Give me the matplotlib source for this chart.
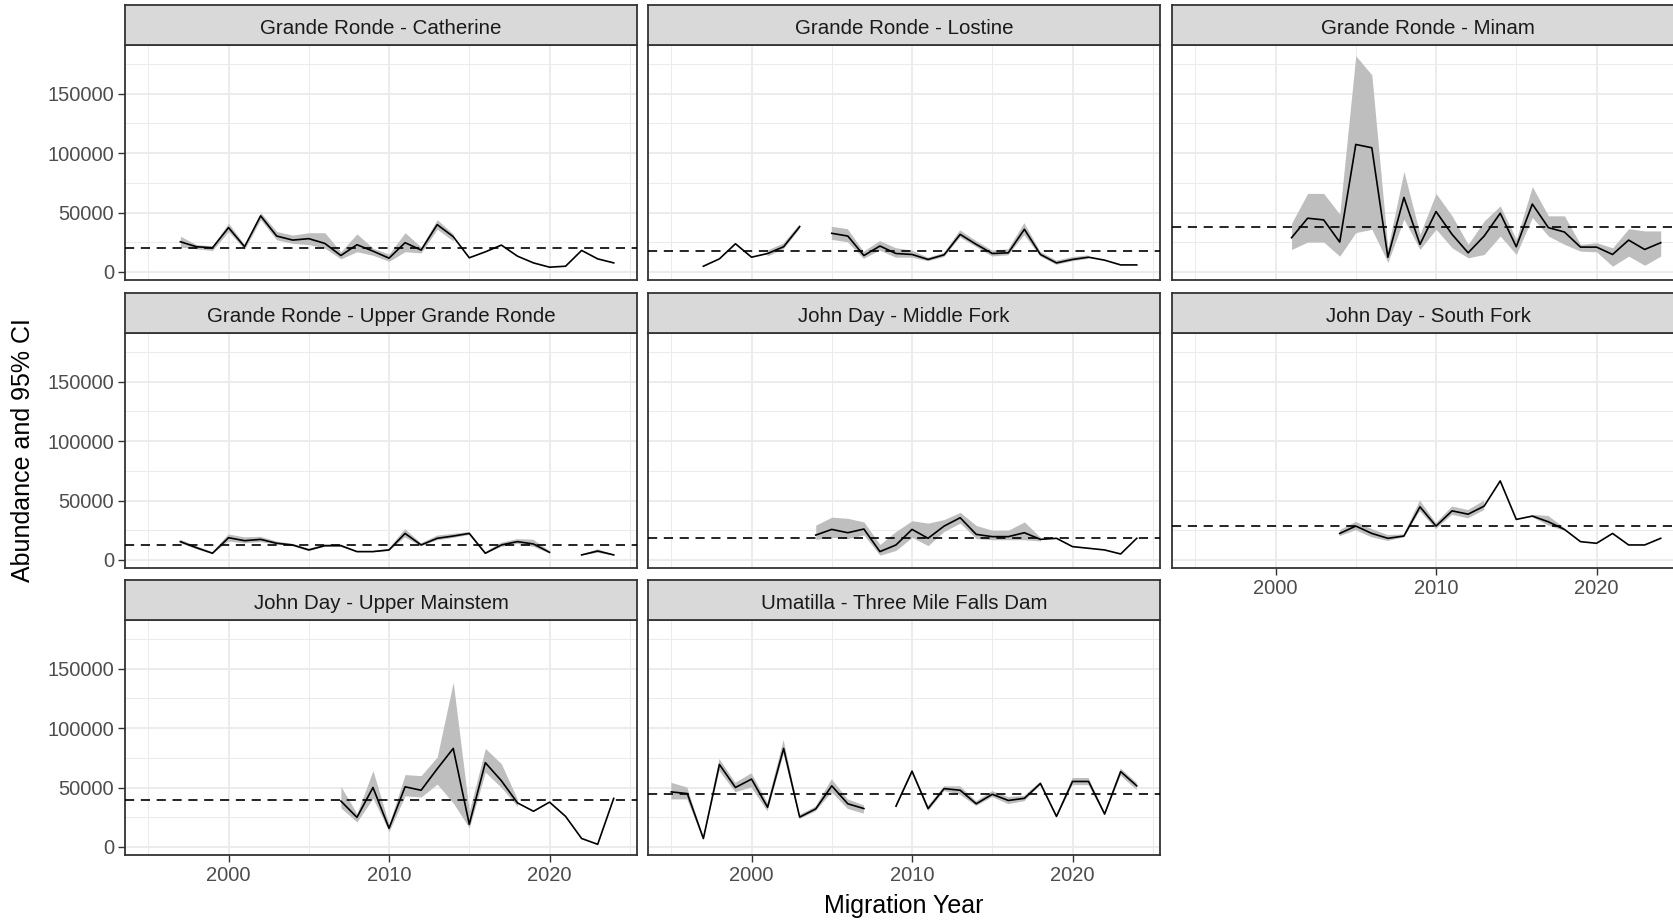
import numpy as np
import matplotlib.pyplot as plt
from matplotlib.ticker import MultipleLocator, FuncFormatter

# ------------------------------------------------------------------
# Style (ggplot theme_bw look)
# ------------------------------------------------------------------
plt.rcParams.update({
    'font.family': ['Liberation Sans', 'DejaVu Sans'],
    'font.size': 14.5,
    'axes.linewidth': 1.3,
})

# ------------------------------------------------------------------
# Data, migration years 1995-2024
# ------------------------------------------------------------------
N = None
years = list(range(1995, 2025))

panel_titles = [
    'Grande Ronde - Catherine',
    'Grande Ronde - Lostine',
    'Grande Ronde - Minam',
    'Grande Ronde - Upper Grande Ronde',
    'John Day - Middle Fork',
    'John Day - South Fork',
    'John Day - Upper Mainstem',
    'Umatilla - Three Mile Falls Dam',
]

catherine_est = [N, N, 25400, 21200, 20300, 37300, 21200, 47200, 30200, 26800,
                 28000, 24000, 13800, 22900, 17500, 11600, 24600, 18400, 39800, 29700,
                 11900, 16900, 22600, 13300, 7600, 4000, 4800, 18100, 11000, 7600]
catherine_lo = [N, N, 21000, 19500, 18000, 34000, 19000, 44000, 27000, 24000,
                23000, 20000, 11000, 17000, 14000, 9000, 17000, 16000, 36000, 26000,
                N, N, N, N, N, N, N, N, N, N]
catherine_hi = [N, N, 30000, 23000, 22000, 41000, 23000, 50000, 34000, 31000,
                33000, 33000, 17000, 32000, 20000, 15000, 33000, 21000, 44000, 32000,
                N, N, N, N, N, N, N, N, N, N]

lostine_est = [N, N, 4800, 11000, 23700, 12400, 15500, 21200, 38100, N,
               32500, 30200, 13800, 21800, 15500, 14700, 10500, 14400, 31600, 23200,
               15500, 16100, 35900, 14700, 7600, 10500, 12400, 9900, 5900, 5900]
lostine_lo = [N, N, N, N, N, N, 13000, 19000, 36000, N,
              27000, 25000, 11000, 18000, 12000, 12000, 9000, 12500, 29000, 21000,
              13000, 14000, 31000, 13000, 6000, 9000, 11000, N, N, N]
lostine_hi = [N, N, N, N, N, N, 18000, 24000, 40000, N,
              38000, 36000, 17000, 26000, 20000, 18000, 12000, 16000, 35000, 26000,
              18000, 19000, 41000, 17000, 9500, 12500, 14000, N, N, N]

minam_est = [N, N, N, N, N, N, 28800, 45200, 43800, 25100,
             107300, 104500, 12400, 62700, 23200, 50800, 31600, 16100, 30200, 49400,
             21200, 57100, 37300, 33600, 20900, 20900, 14700, 26800, 18900, 24600]
minam_lo = [N, N, N, N, N, N, 18900, 25100, 25100, 13300,
            33100, 35900, 8000, 44400, 18900, 35900, 20300, 11900, 14700, 30200,
            14700, 45800, 30200, 23200, 17500, 16900, 4800, 13300, 5600, 13300]
minam_hi = [N, N, N, N, N, N, 41000, 66100, 66100, 48600,
            182000, 165800, 20000, 84700, 31600, 66100, 47200, 23200, 42900, 55600,
            27400, 71800, 47200, 47200, 23200, 24600, 20300, 36400, 34500, 34500]

upper_gr_est = [N, N, 15400, 10300, 5600, 18700, 16200, 17300, 14000, 12600,
                8400, 12000, 12000, 7000, 7000, 8400, 22300, 12600, 18200, 20100,
                22300, 5600, 12600, 15400, 13400, 6400, N, 4200, 7500, 4200]
upper_gr_lo = [N, N, 14000, 9000, 5000, 15500, 14000, 15000, 13000, 11500,
               7500, 11000, 11000, 6500, 6500, 7500, 19000, 11500, 16500, 18500,
               21000, 5000, 11000, 13500, 11000, 5500, N, 3800, 6000, 3800]
upper_gr_hi = [N, N, 17000, 11500, 6500, 21500, 19000, 19500, 15500, 13500,
               9500, 13000, 13000, 7500, 7500, 9500, 26000, 14000, 20500, 22000,
               23500, 6500, 14500, 17500, 17000, 7500, N, 4600, 9000, 4600]

middle_fork_est = [N, N, N, N, N, N, N, N, N, 20900,
                   25700, 22900, 26000, 7000, 12600, 25700, 18200, 28500, 35500, 21500,
                   19600, 19600, 22900, 17300, 18200, 11200, 9800, 8400, 5000, 18200]
middle_fork_lo = [N, N, N, N, N, N, N, N, N, 17300,
                  19000, 18000, 21000, 4000, 8000, 19000, 12000, 24000, 31000, 18000,
                  17000, 17000, 17000, 16000, N, N, N, N, N, N]
middle_fork_hi = [N, N, N, N, N, N, N, N, N, 29300,
                  36000, 35000, 32000, 13000, 24000, 33000, 31000, 34000, 40000, 29000,
                  25000, 25000, 32000, 19000, N, N, N, N, N, N]

south_fork_est = [N, N, N, N, N, N, N, N, N, 22300,
                  28500, 22300, 18200, 20100, 44700, 28500, 41300, 38500, 45300, 66500,
                  34100, 36900, 32100, 25700, 15400, 14000, 22300, 12600, 12600, 18200]
south_fork_lo = [N, N, N, N, N, N, N, N, N, 20000,
                 25000, 19000, 16000, 19000, 41000, 26000, 38000, 35000, 42000, N,
                 N, 36000, 29000, 24500, N, N, N, N, N, N]
south_fork_hi = [N, N, N, N, N, N, N, N, N, 25000,
                 32000, 26000, 21000, 21500, 50000, 31000, 45000, 42000, 50000, N,
                 N, 38000, 37000, 27000, N, N, N, N, N, N]

upper_main_est = [N, N, N, N, N, N, N, N, N, N,
                  N, N, 38600, 24900, 50000, 15700, 50600, 47700, 65700, 82900,
                  19100, 70900, 55700, 37100, 30000, 37700, 25700, 7100, 2200, 40900]
upper_main_lo = [N, N, N, N, N, N, N, N, N, N,
                 N, N, 32900, 21000, 41000, 13000, 43000, 42000, 52900, 37000,
                 16000, 62900, 50000, 34000, N, N, N, N, N, N]
upper_main_hi = [N, N, N, N, N, N, N, N, N, N,
                 N, N, 50900, 28000, 64300, 19000, 60900, 60000, 75700, 138600,
                 30000, 82900, 70000, 40000, N, N, N, N, N, N]

three_mile_est = [46300, 44900, 7100, 69400, 50000, 57100, 33400, 82900, 25100, 32000,
                  51400, 36300, 32300, N, 34300, 63700, 32300, 49100, 47700, 36300,
                  44300, 39100, 40900, 53400, 25700, 55100, 55100, 27700, 63400, 51400]
three_mile_lo = [40000, 40000, 6000, 64000, 46000, 50000, 30000, 78000, 23500, 30000,
                 46000, 32000, 28000, N, 33000, 62000, 30000, 47000, 44000, 34500,
                 42000, 36000, 38500, 52000, 24500, 52000, 52000, 26500, 60000, 48000]
three_mile_hi = [54000, 50000, 8500, 74000, 54000, 62000, 37000, 90000, 27000, 34000,
                 57000, 40000, 35000, N, 36000, 65500, 34500, 51000, 51000, 38500,
                 47000, 42000, 43000, 55000, 27000, 58000, 58000, 29000, 66000, 54000]

# dashed reference line in each panel
mean_lines = [20300, 17500, 38100, 12600, 18200, 28500, 39100, 44900]


def arr(values):
    return np.array([np.nan if v is None else v for v in values], dtype=float)


def main():
    W, H = 1673, 921
    fig = plt.figure(figsize=(W / 100, H / 100), dpi=100)
    fig.patch.set_facecolor('white')

    def box(left, top, width, height):
        return [left / W, 1 - (top + height) / H, width / W, height / H]

    series = [
        (catherine_est, catherine_lo, catherine_hi),
        (lostine_est, lostine_lo, lostine_hi),
        (minam_est, minam_lo, minam_hi),
        (upper_gr_est, upper_gr_lo, upper_gr_hi),
        (middle_fork_est, middle_fork_lo, middle_fork_hi),
        (south_fork_est, south_fork_lo, south_fork_hi),
        (upper_main_est, upper_main_lo, upper_main_hi),
        (three_mile_est, three_mile_lo, three_mile_hi),
    ]

    col_left = [125, 648, 1172]
    row_top = [45, 333, 620]
    pw, ph, strip_h = 512, 235, 40
    bottom_panels = {5, 6, 7}

    first = None
    x = np.array(years)
    for i, (title, (est, lo, hi)) in enumerate(zip(panel_titles, series)):
        r, c = divmod(i, 3)
        left, top = col_left[c], row_top[r]
        ax = fig.add_axes(box(left, top, pw, ph), sharex=first, sharey=first)
        if first is None:
            first = ax

        ax.fill_between(x, arr(lo), arr(hi), color='#BEBEBE', linewidth=0, zorder=2)
        ax.plot(x, arr(est), color='black', linewidth=1.2, zorder=3)
        ax.axhline(mean_lines[i], color='black', linewidth=1.2,
                   linestyle=(0, (5.5, 4)), zorder=4)

        ax.xaxis.set_major_locator(MultipleLocator(10))
        ax.xaxis.set_minor_locator(MultipleLocator(5))
        ax.yaxis.set_major_locator(MultipleLocator(50000))
        ax.yaxis.set_minor_locator(MultipleLocator(25000))
        ax.yaxis.set_major_formatter(FuncFormatter(lambda v, p: f'{v:.0f}'))
        ax.xaxis.set_major_formatter(FuncFormatter(lambda v, p: f'{v:.0f}'))

        ax.grid(which='major', color='#EBEBEB', linewidth=1.3)
        ax.grid(which='minor', color='#EBEBEB', linewidth=0.7)
        ax.set_axisbelow(True)
        for sp in ax.spines.values():
            sp.set_color('#333333')

        show_x = i in bottom_panels
        show_y = c == 0
        ax.tick_params(which='major', length=5, width=1, color='#333333',
                       labelcolor='#4D4D4D', labelsize=14.5, pad=3,
                       bottom=show_x, labelbottom=show_x,
                       left=show_y, labelleft=show_y)
        ax.tick_params(which='minor', length=0)

        # facet strip
        sax = fig.add_axes(box(left, top - strip_h, pw, strip_h))
        sax.set_facecolor('#D9D9D9')
        sax.set_xticks([])
        sax.set_yticks([])
        for sp in sax.spines.values():
            sp.set_color('#333333')
            sp.set_linewidth(1.3)
        sax.text(0.5, 0.42, title, ha='center', va='center', fontsize=14.8,
                 color='#1A1A1A', transform=sax.transAxes)

    fig.text(904 / W, 1 - 906 / H, 'Migration Year', ha='center', va='center',
             fontsize=18, color='black')
    fig.text(23 / W, 1 - 450 / H, 'Abundance and 95% CI', ha='center',
             va='center', rotation=90, fontsize=18, color='black')

    fig.savefig('out.png', dpi=100, facecolor='white')
    plt.close(fig)


if __name__ == '__main__':
    main()
